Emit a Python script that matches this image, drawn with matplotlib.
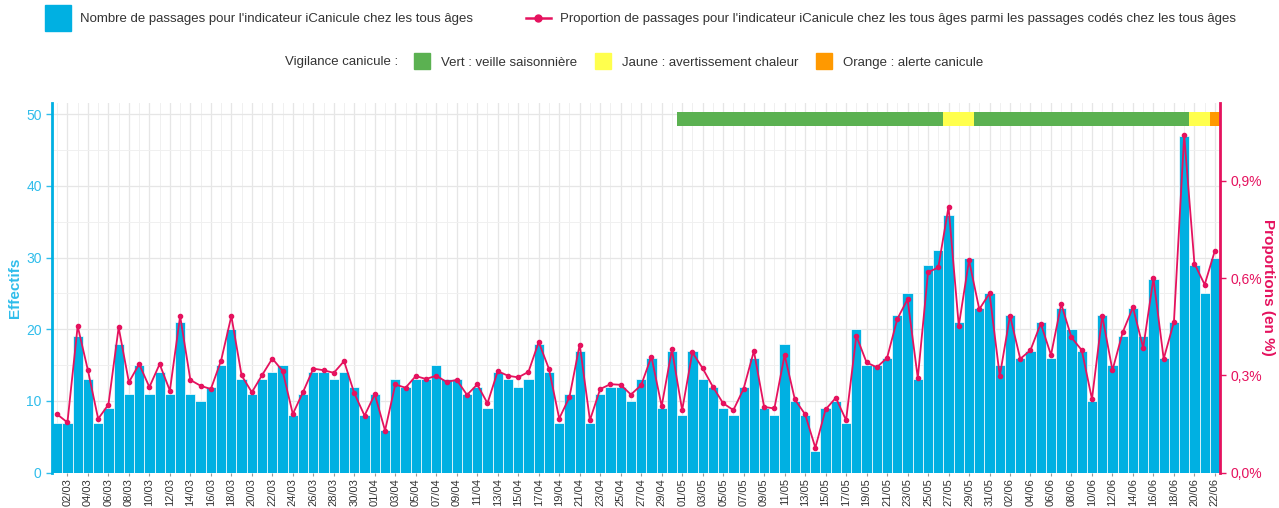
import numpy as np
import pandas as pd
import matplotlib
matplotlib.use("Agg")
import matplotlib.pyplot as plt
from matplotlib.lines import Line2D

plt.rcParams['font.family'] = ['Liberation Sans', 'DejaVu Sans']

# daily data, 01/03 -> 22/06
dates = pd.date_range("2025-03-01", "2025-06-22", freq="D")
day_labels = [d.strftime("%d/%m") for d in dates]

effectifs = [
    # mars
    7, 7, 19, 13, 7, 9, 18, 11, 15, 11, 14, 11, 21, 11, 10, 12, 15, 20, 13, 11,
    13, 14, 15, 8, 11, 14, 14, 13, 14, 12, 8,
    # avril
    11, 6, 13, 12, 13, 13, 15, 13, 13, 11, 12, 9, 14, 13, 12, 13, 18, 14, 7, 11,
    17, 7, 11, 12, 12, 10, 13, 16, 9, 17,
    # mai
    8, 17, 13, 12, 9, 8, 12, 16, 9, 8, 18, 10, 8, 3, 9, 10, 7, 20, 15, 15,
    16, 22, 25, 13, 29, 31, 36, 21, 30, 23, 25,
    # juin
    15, 22, 16, 17, 21, 16, 23, 20, 17, 10, 22, 15, 19, 23, 19, 27, 16, 21, 47, 29,
    25, 30,
]

proportions = [
    0.180, 0.155, 0.452, 0.316, 0.166, 0.210, 0.448, 0.279, 0.335, 0.264,
    0.335, 0.253, 0.483, 0.286, 0.268, 0.258, 0.346, 0.483, 0.300, 0.248,
    0.301, 0.352, 0.314, 0.181, 0.249, 0.321, 0.316, 0.308, 0.344, 0.245, 0.176,
    0.242, 0.130, 0.272, 0.262, 0.298, 0.289, 0.299, 0.280, 0.286, 0.240,
    0.272, 0.214, 0.313, 0.299, 0.294, 0.311, 0.403, 0.320, 0.167, 0.233,
    0.395, 0.162, 0.258, 0.273, 0.271, 0.241, 0.270, 0.358, 0.205, 0.380,
    0.193, 0.371, 0.322, 0.265, 0.214, 0.193, 0.259, 0.375, 0.203, 0.198,
    0.363, 0.226, 0.180, 0.077, 0.195, 0.231, 0.162, 0.422, 0.340, 0.325,
    0.354, 0.474, 0.535, 0.292, 0.618, 0.633, 0.820, 0.453, 0.655, 0.504, 0.553,
    0.298, 0.484, 0.351, 0.378, 0.460, 0.363, 0.520, 0.417, 0.378, 0.227,
    0.484, 0.316, 0.433, 0.510, 0.385, 0.599, 0.351, 0.465, 1.041, 0.645,
    0.580, 0.685,
]

# vigilance canicule periods (first day, last day, level)
vig_start = ["01/05", "27/05", "30/05", "20/06", "22/06"]
vig_end = ["26/05", "29/05", "19/06", "21/06", "22/06"]
vig_level = ["Vert", "Jaune", "Vert", "Jaune", "Orange"]

vig_colors = {"Vert": "#5BB151", "Jaune": "#FFFF4D", "Orange": "#FF9900"}
vig_names = {"Vert": "Vert : veille saisonnière",
             "Jaune": "Jaune : avertissement chaleur",
             "Orange": "Orange : alerte canicule"}

blue = "#00B0E2"
blue_txt = "#2FBDEB"
pink = "#E5125E"

x = np.arange(len(dates))

fig = plt.figure(figsize=(12.79, 5.08), dpi=100)
ax = fig.add_axes([0.0407, 0.0695, 0.9132, 0.7283])
ax2 = ax.twinx()

ax.bar(x, effectifs, width=1.0, color=blue, edgecolor="white", linewidth=0.5, zorder=2)

# vigilance band at the top
for s, e, lvl in zip(vig_start, vig_end, vig_level):
    i0 = day_labels.index(s)
    i1 = day_labels.index(e)
    ax.bar((i0 + i1) / 2, 1.9, width=i1 - i0 + 1, bottom=48.4,
           color=vig_colors[lvl], linewidth=0, zorder=3)

ax2.plot(x, proportions, color=pink, lw=1.3, marker="o", ms=3, zorder=4)

ax.set_xlim(-0.5, len(x) - 0.5)
ax.set_ylim(0, 51.6)
ax2.set_ylim(0, 1.141)

ax.set_yticks(np.arange(0, 51, 10))
ax.set_yticks(np.arange(5, 51, 10), minor=True)
ax.set_xticks(x[1::2])
ax.set_xticklabels(day_labels[1::2], rotation=90, fontsize=8, color="#333333")
ax.set_xticks(x, minor=True)

ax.grid(True, which="major", color="#E6E6E6", lw=0.9, zorder=0)
ax.grid(True, which="minor", color="#F0F0F0", lw=0.7, zorder=0)
ax.set_axisbelow(True)

ax.tick_params(axis="y", which="major", colors=blue_txt, labelsize=10, length=4, width=1)
ax.tick_params(axis="y", which="minor", length=0)
ax.tick_params(axis="x", which="major", color="#999999", length=2.5, pad=1.5)
ax.tick_params(axis="x", which="minor", length=0)

ax2.set_yticks([0, 0.3, 0.6, 0.9])
ax2.set_yticklabels(["0,0%", "0,3%", "0,6%", "0,9%"])
ax2.tick_params(axis="y", colors=pink, labelsize=10, length=4, width=1)

for a in (ax, ax2):
    a.spines["top"].set_visible(False)
    a.spines["bottom"].set_visible(False)
ax.spines["right"].set_visible(False)
ax2.spines["left"].set_visible(False)
ax.spines["left"].set_color(blue)
ax.spines["left"].set_linewidth(2)
ax2.spines["right"].set_color(pink)
ax2.spines["right"].set_linewidth(2)

ax.set_ylabel("Effectifs", color=blue_txt, fontsize=11, fontweight="bold", labelpad=3)
ax2.set_ylabel("Proportions (en %)", color=pink, fontsize=11, fontweight="bold",
               rotation=270, labelpad=9)

# legends
h1 = [Line2D([], [], marker="s", ls="none", ms=19, color=blue),
      Line2D([], [], marker="o", ms=5, lw=1.8, color=pink)]
l1 = ["Nombre de passages pour l'indicateur iCanicule chez les tous âges",
      "Proportion de passages pour l'indicateur iCanicule chez les tous âges "
      "parmi les passages codés chez les tous âges"]
leg1 = fig.legend(h1, l1, loc="center left", bbox_to_anchor=(0.0262, 0.962), ncol=2,
                  frameon=False, fontsize=9.5, handlelength=1.9, handletextpad=0.72,
                  columnspacing=4.0, labelcolor="#333333")

levels = ["Vert", "Jaune", "Orange"]
h2 = [Line2D([], [], marker="s", ls="none", ms=12, color=vig_colors[k]) for k in levels]
leg2 = fig.legend(h2, [vig_names[k] for k in levels], loc="center left",
                  bbox_to_anchor=(0.3145, 0.877), ncol=3, frameon=False, fontsize=9.5,
                  handlelength=1.2, handletextpad=0.85, columnspacing=1.35,
                  labelcolor="#333333")
fig.text(0.311, 0.877, "Vigilance canicule :", ha="right", va="center",
         fontsize=9.5, color="#333333")

fig.savefig("out.png", dpi=100)
